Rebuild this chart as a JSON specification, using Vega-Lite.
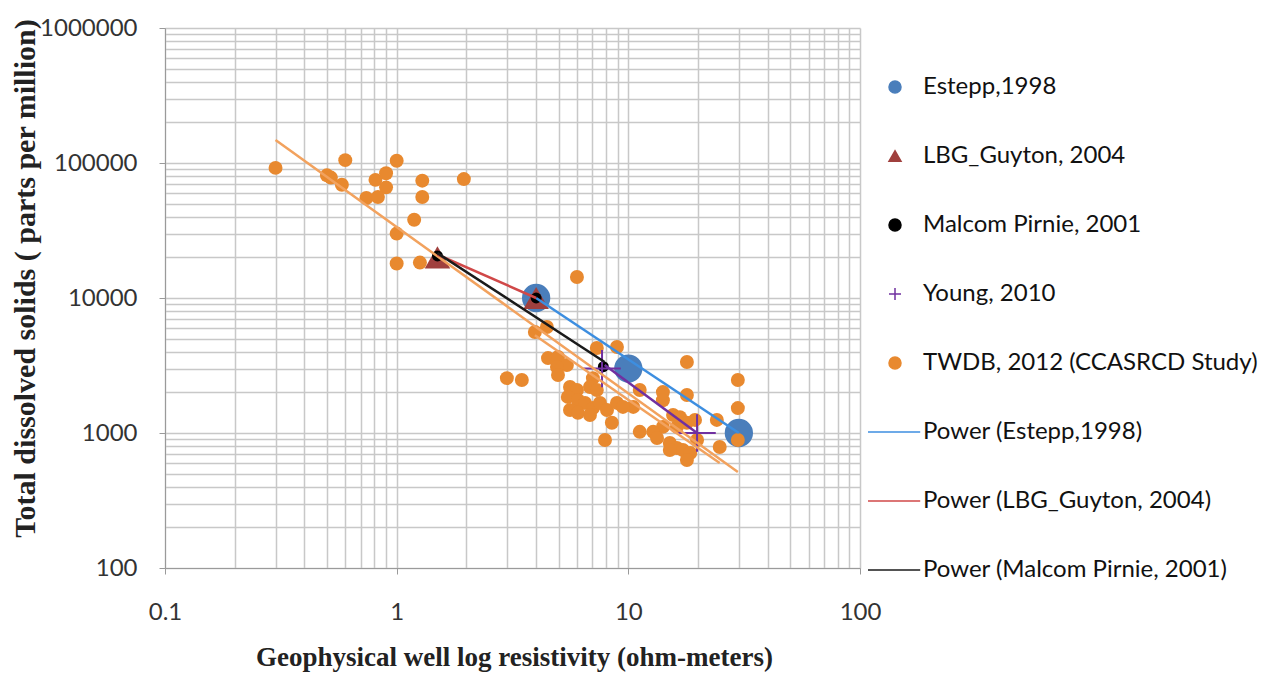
{
  "$schema": "https://vega.github.io/schema/vega-lite/v6.json",
  "width": 695,
  "height": 540,
  "autosize": {"type": "none"},
  "padding": {"left": 165, "top": 28, "right": 407, "bottom": 106},
  "background": "white",
  "config": {
    "view": {"stroke": null},
    "font": "Lato",
    "axis": {"gridColor": "#c8c8c8", "gridWidth": 1.5, "domainColor": "#9a9a9a", "tickColor": "#9a9a9a", "labelColor": "#333333", "labelFont": "Lato", "labelFontSize": 24, "titleFont": "Liberation Serif", "titleFontWeight": "bold", "titleColor": "#222222"}
  },
  "data": {"values": [
    {"series": "Estepp,1998", "r": 4, "tds": 10000},
    {"series": "Estepp,1998", "r": 10, "tds": 3000},
    {"series": "Estepp,1998", "r": 30, "tds": 1000},
    {"series": "LBG_Guyton, 2004", "r": 1.5, "tds": 20000},
    {"series": "LBG_Guyton, 2004", "r": 4, "tds": 10000},
    {"series": "Malcom Pirnie, 2001", "r": 1.5, "tds": 20500},
    {"series": "Malcom Pirnie, 2001", "r": 4, "tds": 10000},
    {"series": "Malcom Pirnie, 2001", "r": 7.8, "tds": 3100},
    {"series": "Young, 2010", "r": 7.7, "tds": 3000},
    {"series": "Young, 2010", "r": 19.8, "tds": 1000},
    {"series": "TWDB, 2012 (CCASRCD Study)", "r": 0.30, "tds": 92000},
    {"series": "TWDB, 2012 (CCASRCD Study)", "r": 0.60, "tds": 105000},
    {"series": "TWDB, 2012 (CCASRCD Study)", "r": 1.0, "tds": 104000},
    {"series": "TWDB, 2012 (CCASRCD Study)", "r": 0.50, "tds": 81000},
    {"series": "TWDB, 2012 (CCASRCD Study)", "r": 0.52, "tds": 78000},
    {"series": "TWDB, 2012 (CCASRCD Study)", "r": 0.58, "tds": 69000},
    {"series": "TWDB, 2012 (CCASRCD Study)", "r": 0.81, "tds": 75000},
    {"series": "TWDB, 2012 (CCASRCD Study)", "r": 0.90, "tds": 84000},
    {"series": "TWDB, 2012 (CCASRCD Study)", "r": 0.90, "tds": 66000},
    {"series": "TWDB, 2012 (CCASRCD Study)", "r": 0.74, "tds": 55000},
    {"series": "TWDB, 2012 (CCASRCD Study)", "r": 0.83, "tds": 56000},
    {"series": "TWDB, 2012 (CCASRCD Study)", "r": 1.29, "tds": 74000},
    {"series": "TWDB, 2012 (CCASRCD Study)", "r": 1.29, "tds": 56000},
    {"series": "TWDB, 2012 (CCASRCD Study)", "r": 1.95, "tds": 76000},
    {"series": "TWDB, 2012 (CCASRCD Study)", "r": 1.19, "tds": 38000},
    {"series": "TWDB, 2012 (CCASRCD Study)", "r": 1.0, "tds": 30000},
    {"series": "TWDB, 2012 (CCASRCD Study)", "r": 1.0, "tds": 18000},
    {"series": "TWDB, 2012 (CCASRCD Study)", "r": 1.26, "tds": 18300},
    {"series": "TWDB, 2012 (CCASRCD Study)", "r": 6.0, "tds": 14300},
    {"series": "TWDB, 2012 (CCASRCD Study)", "r": 3.95, "tds": 5600},
    {"series": "TWDB, 2012 (CCASRCD Study)", "r": 4.45, "tds": 6100},
    {"series": "TWDB, 2012 (CCASRCD Study)", "r": 4.5, "tds": 3590},
    {"series": "TWDB, 2012 (CCASRCD Study)", "r": 4.97, "tds": 3660},
    {"series": "TWDB, 2012 (CCASRCD Study)", "r": 5.43, "tds": 3190},
    {"series": "TWDB, 2012 (CCASRCD Study)", "r": 4.92, "tds": 3080},
    {"series": "TWDB, 2012 (CCASRCD Study)", "r": 4.97, "tds": 2690},
    {"series": "TWDB, 2012 (CCASRCD Study)", "r": 2.99, "tds": 2550},
    {"series": "TWDB, 2012 (CCASRCD Study)", "r": 3.47, "tds": 2470},
    {"series": "TWDB, 2012 (CCASRCD Study)", "r": 7.03, "tds": 2550},
    {"series": "TWDB, 2012 (CCASRCD Study)", "r": 7.31, "tds": 4260},
    {"series": "TWDB, 2012 (CCASRCD Study)", "r": 8.93, "tds": 4340},
    {"series": "TWDB, 2012 (CCASRCD Study)", "r": 5.6, "tds": 2190},
    {"series": "TWDB, 2012 (CCASRCD Study)", "r": 6.0, "tds": 2080},
    {"series": "TWDB, 2012 (CCASRCD Study)", "r": 5.48, "tds": 1850},
    {"series": "TWDB, 2012 (CCASRCD Study)", "r": 6.06, "tds": 1750},
    {"series": "TWDB, 2012 (CCASRCD Study)", "r": 6.83, "tds": 2190},
    {"series": "TWDB, 2012 (CCASRCD Study)", "r": 7.31, "tds": 2080},
    {"series": "TWDB, 2012 (CCASRCD Study)", "r": 6.5, "tds": 1670},
    {"series": "TWDB, 2012 (CCASRCD Study)", "r": 7.03, "tds": 1530},
    {"series": "TWDB, 2012 (CCASRCD Study)", "r": 7.54, "tds": 1670},
    {"series": "TWDB, 2012 (CCASRCD Study)", "r": 8.09, "tds": 1480},
    {"series": "TWDB, 2012 (CCASRCD Study)", "r": 8.93, "tds": 1670},
    {"series": "TWDB, 2012 (CCASRCD Study)", "r": 5.6, "tds": 1480},
    {"series": "TWDB, 2012 (CCASRCD Study)", "r": 6.06, "tds": 1410},
    {"series": "TWDB, 2012 (CCASRCD Study)", "r": 6.83, "tds": 1360},
    {"series": "TWDB, 2012 (CCASRCD Study)", "r": 8.49, "tds": 1190},
    {"series": "TWDB, 2012 (CCASRCD Study)", "r": 7.93, "tds": 888},
    {"series": "TWDB, 2012 (CCASRCD Study)", "r": 17.9, "tds": 3360},
    {"series": "TWDB, 2012 (CCASRCD Study)", "r": 29.7, "tds": 2470},
    {"series": "TWDB, 2012 (CCASRCD Study)", "r": 29.7, "tds": 1530},
    {"series": "TWDB, 2012 (CCASRCD Study)", "r": 29.7, "tds": 888},
    {"series": "TWDB, 2012 (CCASRCD Study)", "r": 11.2, "tds": 2080},
    {"series": "TWDB, 2012 (CCASRCD Study)", "r": 10.5, "tds": 1560},
    {"series": "TWDB, 2012 (CCASRCD Study)", "r": 9.48, "tds": 1560},
    {"series": "TWDB, 2012 (CCASRCD Study)", "r": 14.1, "tds": 2010},
    {"series": "TWDB, 2012 (CCASRCD Study)", "r": 14.1, "tds": 1750},
    {"series": "TWDB, 2012 (CCASRCD Study)", "r": 17.9, "tds": 1910},
    {"series": "TWDB, 2012 (CCASRCD Study)", "r": 15.6, "tds": 1360},
    {"series": "TWDB, 2012 (CCASRCD Study)", "r": 16.7, "tds": 1310},
    {"series": "TWDB, 2012 (CCASRCD Study)", "r": 17.9, "tds": 1190},
    {"series": "TWDB, 2012 (CCASRCD Study)", "r": 16.2, "tds": 1110},
    {"series": "TWDB, 2012 (CCASRCD Study)", "r": 14.1, "tds": 1110},
    {"series": "TWDB, 2012 (CCASRCD Study)", "r": 12.8, "tds": 1020},
    {"series": "TWDB, 2012 (CCASRCD Study)", "r": 11.2, "tds": 1020},
    {"series": "TWDB, 2012 (CCASRCD Study)", "r": 13.3, "tds": 918},
    {"series": "TWDB, 2012 (CCASRCD Study)", "r": 15.1, "tds": 843},
    {"series": "TWDB, 2012 (CCASRCD Study)", "r": 16.2, "tds": 774},
    {"series": "TWDB, 2012 (CCASRCD Study)", "r": 17.2, "tds": 748},
    {"series": "TWDB, 2012 (CCASRCD Study)", "r": 18.5, "tds": 711},
    {"series": "TWDB, 2012 (CCASRCD Study)", "r": 17.9, "tds": 631},
    {"series": "TWDB, 2012 (CCASRCD Study)", "r": 15.1, "tds": 748},
    {"series": "TWDB, 2012 (CCASRCD Study)", "r": 19.8, "tds": 888},
    {"series": "TWDB, 2012 (CCASRCD Study)", "r": 24.1, "tds": 1250},
    {"series": "TWDB, 2012 (CCASRCD Study)", "r": 24.8, "tds": 788},
    {"series": "TWDB, 2012 (CCASRCD Study)", "r": 19.4, "tds": 1250},
    {"series": "Power (TWDB, 2012)", "r": 0.3, "tds": 148000},
    {"series": "Power (TWDB, 2012)", "r": 29.7, "tds": 514},
    {"series": "Power (TWDB b)", "r": 3.95, "tds": 5300},
    {"series": "Power (TWDB b)", "r": 24.8, "tds": 600},
    {"series": "Power (Young, 2010)", "r": 7.9, "tds": 3190},
    {"series": "Power (Young, 2010)", "r": 19.8, "tds": 1000},
    {"series": "Power (Estepp,1998)", "r": 4, "tds": 10000},
    {"series": "Power (Estepp,1998)", "r": 30, "tds": 1000},
    {"series": "Power (LBG_Guyton, 2004)", "r": 1.5, "tds": 21000},
    {"series": "Power (LBG_Guyton, 2004)", "r": 4, "tds": 10000},
    {"series": "Power (Malcom Pirnie, 2001)", "r": 1.5, "tds": 21500},
    {"series": "Power (Malcom Pirnie, 2001)", "r": 7.9, "tds": 3360}
  ]},
  "encoding": {
    "x": {"field": "r", "type": "quantitative", "title": "Geophysical well log resistivity (ohm-meters)",
      "scale": {"type": "log", "domain": [0.1, 100], "nice": false},
      "axis": {
        "values": [0.1,0.2,0.3,0.4,0.5,0.6,0.7,0.8,0.9,1,2,3,4,5,6,7,8,9,10,20,30,40,50,60,70,80,90,100],
        "format": "~r",
        "labelExpr": "abs(log(datum.value)/LN10 - round(log(datum.value)/LN10)) < 0.001 ? datum.label : ''",
        "tickSize": {"condition": {"test": "abs(log(datum.value)/LN10 - round(log(datum.value)/LN10)) < 0.001", "value": 6}, "value": 0},
        "labelPadding": 26, "labelFlush": false, "labelOverlap": false,
        "titleFontSize": 27,
        "titleY": 89, "titleBaseline": "middle", "titleX": 349
      }},
    "y": {"field": "tds", "type": "quantitative", "title": "Total dissolved solids ( parts per million)",
      "scale": {"type": "log", "domain": [100, 1000000], "nice": false},
      "axis": {
        "values": [100,200,300,400,500,600,700,800,900,1000,2000,3000,4000,5000,6000,7000,8000,9000,10000,20000,30000,40000,50000,60000,70000,80000,90000,100000,200000,300000,400000,500000,600000,700000,800000,900000,1000000],
        "format": "d",
        "labelExpr": "abs(log(datum.value)/LN10 - round(log(datum.value)/LN10)) < 0.001 ? datum.label : ''",
        "tickSize": {"condition": {"test": "abs(log(datum.value)/LN10 - round(log(datum.value)/LN10)) < 0.001", "value": 6}, "value": 0},
        "labelPadding": 22, "labelFlush": false, "labelOverlap": false, "labelBaseline": "middle",
        "titleFontSize": 30,
        "titleX": -140, "titleY": 250, "titleBaseline": "middle", "titleAngle": -90
      }}
  },
  "layer": [
    {
      "transform": [{"filter": "indexof(datum.series, 'Power') != 0 && datum.series != 'Young, 2010'"}],
      "mark": {"type": "point", "filled": true, "opacity": 1},
      "encoding": {
        "color": {"field": "series", "type": "nominal", "title": null,
          "scale": {
            "domain": ["Estepp,1998", "LBG_Guyton, 2004", "Malcom Pirnie, 2001", "Young, 2010", "TWDB, 2012 (CCASRCD Study)", "Power (Estepp,1998)", "Power (LBG_Guyton, 2004)", "Power (Malcom Pirnie, 2001)", "Power (Young, 2010)", "Power (TWDB, 2012)", "Power (TWDB b)"],
            "range": ["#4a7ebb", "#a0403e", "#000000", "#7030a0", "#e8892f", "#3d8ee0", "#d04848", "#1a1a1a", "#7030a0", "#f2a25e", "#f2a25e"]
          },
          "legend": {
            "orient": "none", "legendX": 718, "legendY": 47,
            "values": ["Estepp,1998", "LBG_Guyton, 2004", "Malcom Pirnie, 2001", "Young, 2010", "TWDB, 2012 (CCASRCD Study)", "Power (Estepp,1998)", "Power (LBG_Guyton, 2004)", "Power (Malcom Pirnie, 2001)"],
            "labelFont": "Lato", "labelFontSize": 24, "labelColor": "#111111", "labelLimit": 400,
            "labelOffset": 16, "rowPadding": 45, "symbolSize": 144,
            "encode": {"symbols": {"update": {
              "fill": {"signal": "datum.value == 'Young, 2010' || indexof(datum.value, 'Power') == 0 ? 'transparent' : scale('color', datum.value)"},
              "stroke": {"signal": "scale('color', datum.value)"},
              "strokeWidth": {"signal": "datum.value == 'Young, 2010' || indexof(datum.value, 'Power') == 0 ? 2 : 0"},
              "size": {"signal": "datum.value == 'Estepp,1998' ? 300 : datum.value == 'LBG_Guyton, 2004' ? 260 : 144"},
              "opacity": {"value": 1}
            }}}
          }},
        "shape": {"field": "series", "type": "nominal", "title": null,
          "scale": {
            "domain": ["Estepp,1998", "LBG_Guyton, 2004", "Malcom Pirnie, 2001", "Young, 2010", "TWDB, 2012 (CCASRCD Study)", "Power (Estepp,1998)", "Power (LBG_Guyton, 2004)", "Power (Malcom Pirnie, 2001)", "Power (Young, 2010)", "Power (TWDB, 2012)", "Power (TWDB b)"],
            "range": ["circle", "triangle-up", "circle", "M-1,0H1M0,-1V1", "circle", "M-4.5,0H4.2", "M-4.5,0H4.2", "M-4.5,0H4.2", "M-4.5,0H4.2", "M-4.5,0H4.2", "M-4.5,0H4.2"]
          }},
        "size": {"field": "series", "type": "nominal", "legend": null,
          "scale": {"type": "ordinal", "domain": ["Estepp,1998", "LBG_Guyton, 2004", "Malcom Pirnie, 2001", "TWDB, 2012 (CCASRCD Study)"], "range": [800, 650, 120, 195]}}
      }
    },
    {
      "transform": [{"filter": "datum.series == 'Young, 2010'"}],
      "mark": {"type": "point", "filled": false, "opacity": 1, "strokeWidth": 2, "size": 1400},
      "encoding": {
        "color": {"field": "series", "type": "nominal"},
        "shape": {"field": "series", "type": "nominal"}
      }
    },
    {
      "transform": [{"filter": "indexof(datum.series, 'Power') == 0"}],
      "mark": {"type": "line", "strokeWidth": 2.5},
      "encoding": {
        "color": {"field": "series", "type": "nominal"},
        "detail": {"field": "series", "type": "nominal"}
      }
    }
  ]
}
